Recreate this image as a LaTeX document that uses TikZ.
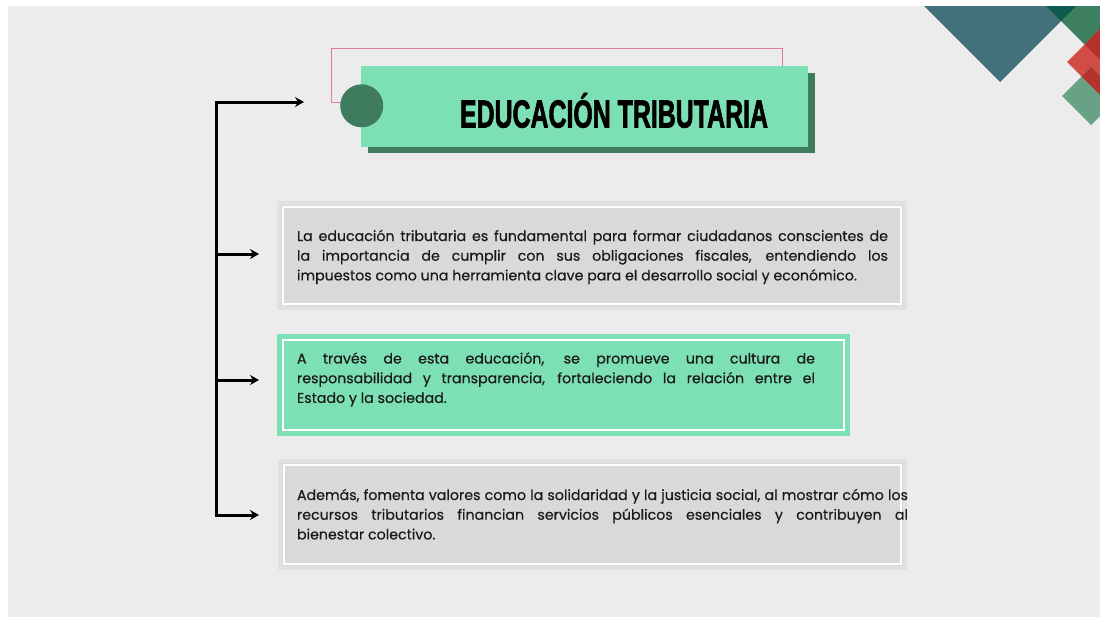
\documentclass[tikz,border=0pt]{standalone}
\usepackage{fontspec}
\setmainfont{Poppins}
\newfontfamily\titlefont[FakeBold=2.2]{Liberation Sans}
\newfontfamily\bodyfont[FakeBold=0.4]{Poppins}
\usepackage{graphicx}
\usetikzlibrary{arrows.meta}
\definecolor{paper}{HTML}{ECECEC}
\definecolor{mint}{HTML}{7DDFB4}
\definecolor{forest}{HTML}{3F7B5F}
\definecolor{pinkline}{HTML}{E07BA3}
\definecolor{boxgray}{HTML}{D9D9D9}
\definecolor{bandgray}{HTML}{E1E1E1}
\definecolor{ink}{HTML}{1A1A1A}
\definecolor{tealc}{HTML}{42717C}
\definecolor{darkteal}{HTML}{0E5A50}
\definecolor{leaf}{HTML}{3E7F5F}
\definecolor{redA}{HTML}{D24C46}
\definecolor{redB}{HTML}{B3322C}
\definecolor{sage}{HTML}{68A185}
\begin{document}
\begin{tikzpicture}[x=1pt,y=-1pt,
  conn/.style={line width=3pt, draw=black},
  tipped/.style={conn, -{Stealth[length=9pt,width=10pt,inset=3pt]}},
  grayframe/.style={fill=boxgray, draw=bandgray, line width=4pt, outer sep=0pt, inner sep=0pt},
  mintframe/.style={fill=mint, draw=mint, line width=4pt, outer sep=0pt, inner sep=0pt},
  whiteline/.style={draw=white, line width=2.5pt},
  bodytext/.style={anchor=north west, inner sep=0pt, outer sep=0pt, align=left, text=ink, font=\bodyfont\fontsize{14.2}{19.7}\selectfont},
]
\useasboundingbox (0,0) rectangle (1100,619);
\fill[white] (0,0) rectangle (1100,619);
\fill[paper] (8,6) rectangle (1100,617);

% decorative corner
\begin{scope}
\clip (8,6) rectangle (1100,617);
\fill[tealc] (924,6) -- (1000,-70) -- (1076,6) -- (1000,82) -- cycle;
\fill[leaf] (1040,0) -- (1110,-70) -- (1180,0) -- (1110,70) -- cycle;
\fill[darkteal] (1040,0) -- (1082,0) -- (1061,21) -- cycle;
\fill[redA] (1067,62) -- (1100,29) -- (1133,62) -- (1100,95) -- cycle;
\fill[redB] (1084.5,44.5) -- (1100,29) -- (1100,60) -- cycle;
\fill[sage] (1062,96) -- (1091,67) -- (1120,96) -- (1091,125) -- cycle;
\fill[redB] (1081.5,76.5) -- (1091,67) -- (1100,76) -- (1100,95) -- cycle;
\end{scope}

% title block
\draw[pinkline, line width=1pt] (331,48) rectangle (782,102);
\fill[forest] (368,72.5) rectangle (815,153);
\node[fill=mint, anchor=north west, inner sep=0pt, outer sep=0pt,
      minimum width=447pt, minimum height=80.5pt] (titlebox) at (361,66) {};
\node[circle, fill=forest, inner sep=0pt, minimum size=43pt] (dot) at (361.7,105.8) {};
\node[anchor=base, inner sep=0pt] (title) at (614,127.5)
  {\resizebox{308pt}{\height}{\titlefont\fontsize{39}{39}\selectfont\bfseries EDUCACIÓN TRIBUTARIA}};

% content boxes
\node[grayframe, minimum width=626pt, minimum height=105pt] (b1) at (592,255.5) {};
\draw[whiteline] ([xshift=4pt,yshift=-4pt]b1.north west) rectangle ([xshift=-4pt,yshift=4pt]b1.south east);
\node[mintframe, minimum width=569pt, minimum height=98pt] (b2) at (563.5,385) {};
\draw[whiteline] ([xshift=4pt,yshift=-4pt]b2.north west) rectangle ([xshift=-4pt,yshift=4pt]b2.south east);
\node[grayframe, minimum width=625pt, minimum height=107pt] (b3) at (592.5,514.5) {};
\draw[whiteline] ([xshift=4pt,yshift=-4pt]b3.north west) rectangle ([xshift=-4pt,yshift=4pt]b3.south east);

\node[bodytext] (t1) at (297,227) {%
\rule{0pt}{14pt}\makebox[591pt][s]{La educación tributaria es fundamental para formar ciudadanos conscientes de}\\
\makebox[591pt][s]{la importancia de cumplir con sus obligaciones fiscales, entendiendo los}\\
impuestos como una herramienta clave para el desarrollo social y económico.};

\node[bodytext] (t2) at (297,349.5) {%
\rule{0pt}{14pt}\makebox[518pt][s]{A través de esta educación, se promueve una cultura de}\\
\makebox[518pt][s]{responsabilidad y transparencia, fortaleciendo la relación entre el}\\
Estado y la sociedad.};

\node[bodytext] (t3) at (297,486) {%
\rule{0pt}{14pt}\makebox[611pt][s]{Además, fomenta valores como la solidaridad y la justicia social, al mostrar cómo los}\\
\makebox[611pt][s]{recursos tributarios financian servicios públicos esenciales y contribuyen al}\\
bienestar colectivo.};

% connectors
\coordinate (jTop) at (216,102);
\coordinate (jBot) at (216,515);
\coordinate (e0) at (304,102);
\coordinate (e1) at (259,254);
\coordinate (e2) at (259,380);
\coordinate (e3) at (259,515);
\draw[conn, {Stealth[length=9pt,width=10pt,inset=3pt]}-{Stealth[length=9pt,width=10pt,inset=3pt]}]
  (e0) -- (jTop) -- (jBot) -- (e3);
\draw[tipped] (jTop |- e1) -- (e1);
\draw[tipped] (jTop |- e2) -- (e2);
\end{tikzpicture}
\end{document}
